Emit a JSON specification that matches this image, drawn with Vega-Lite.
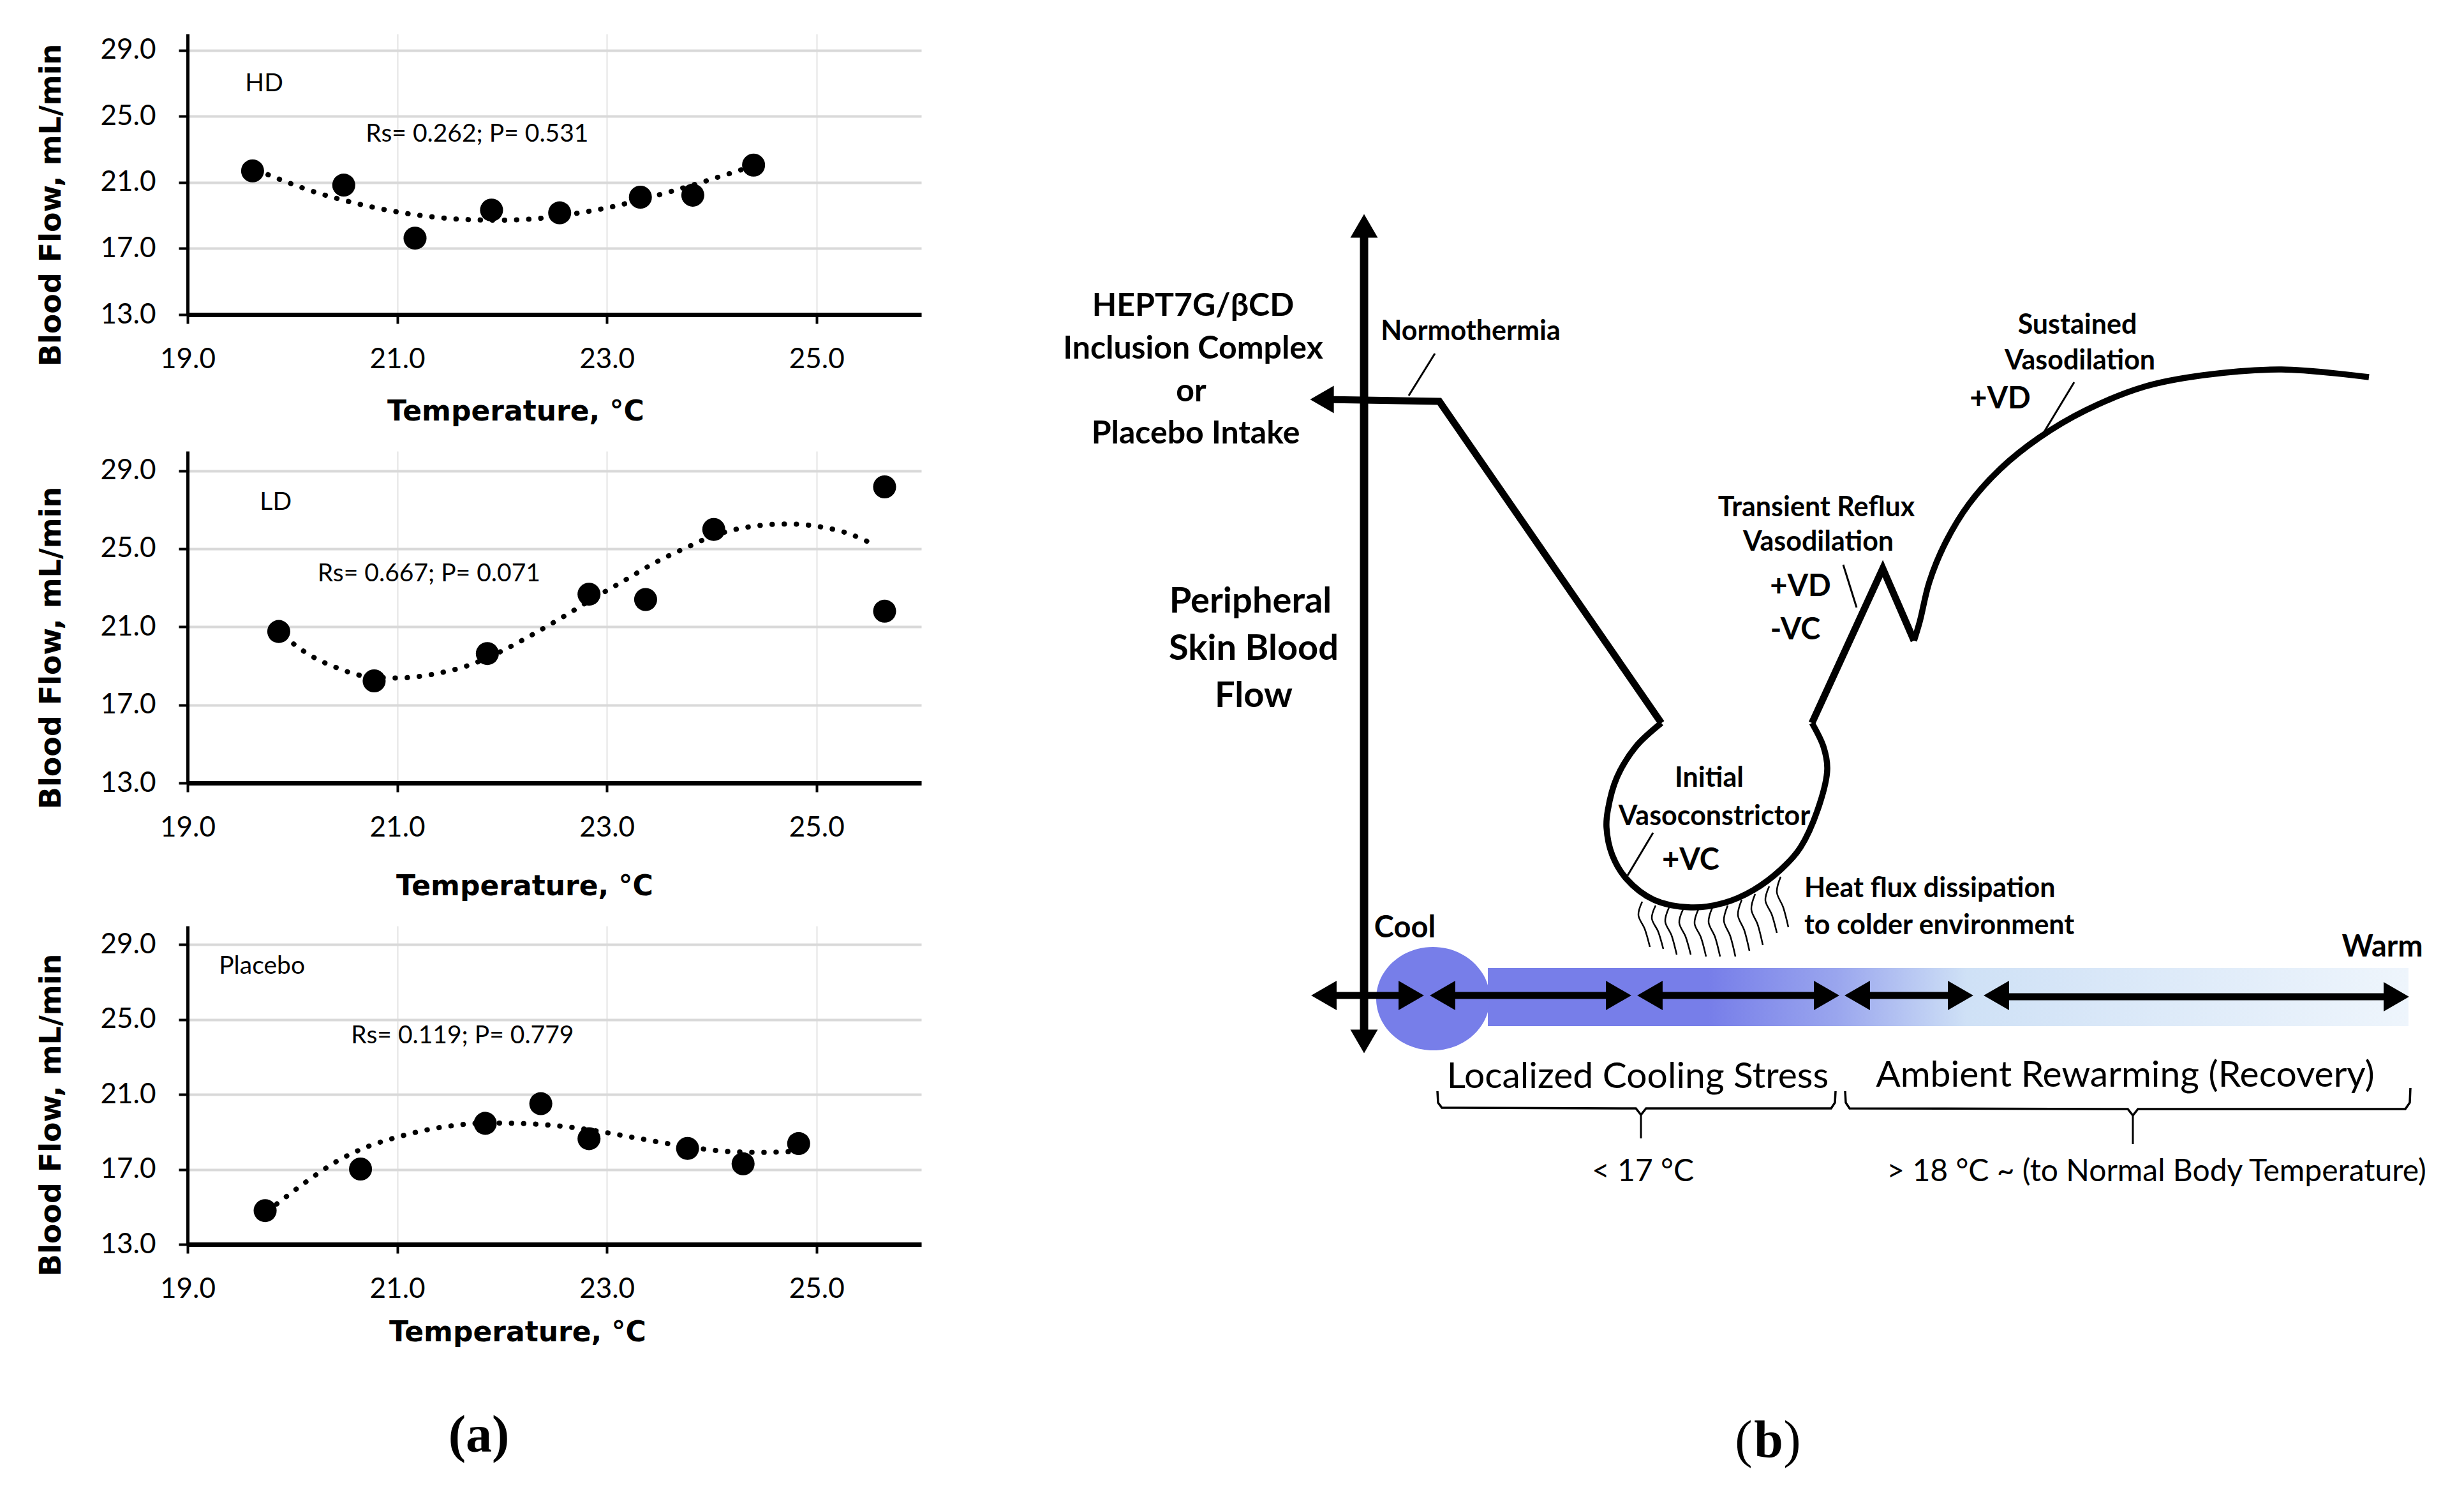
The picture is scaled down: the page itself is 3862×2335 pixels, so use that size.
{
  "$schema": "https://vega.github.io/schema/vega-lite/v6.json",
  "background": "white",
  "padding": {"left": 57, "top": 53, "right": 0, "bottom": 0},
  "config": {
    "view": {"stroke": null},
    "axis": {"labelFont": "Lato", "titleFont": "DejaVu Sans", "labelColor": "#000", "titleColor": "#000", "domainColor": "#000", "tickColor": "#000", "labelOverlap": false, "labelFlush": false},
    "text": {"color": "#000"}
  },
  "datasets": {
    "pts": [
      {"g": "HD", "temp": 19.62, "flow": 21.70}, {"g": "HD", "temp": 20.49, "flow": 20.84}, {"g": "HD", "temp": 21.17, "flow": 17.63}, {"g": "HD", "temp": 21.90, "flow": 19.33},
      {"g": "HD", "temp": 22.55, "flow": 19.16}, {"g": "HD", "temp": 23.32, "flow": 20.11}, {"g": "HD", "temp": 23.82, "flow": 20.23}, {"g": "HD", "temp": 24.40, "flow": 22.05},
      {"g": "LD", "temp": 19.87, "flow": 20.76}, {"g": "LD", "temp": 20.78, "flow": 18.23}, {"g": "LD", "temp": 21.86, "flow": 19.63}, {"g": "LD", "temp": 22.83, "flow": 22.67},
      {"g": "LD", "temp": 23.37, "flow": 22.40}, {"g": "LD", "temp": 24.02, "flow": 25.99}, {"g": "LD", "temp": 25.65, "flow": 28.17}, {"g": "LD", "temp": 25.65, "flow": 21.80},
      {"g": "PL", "temp": 19.74, "flow": 14.80}, {"g": "PL", "temp": 20.65, "flow": 17.02}, {"g": "PL", "temp": 21.84, "flow": 19.46}, {"g": "PL", "temp": 22.37, "flow": 20.51},
      {"g": "PL", "temp": 22.83, "flow": 18.64}, {"g": "PL", "temp": 23.77, "flow": 18.12}, {"g": "PL", "temp": 24.30, "flow": 17.30}, {"g": "PL", "temp": 24.83, "flow": 18.38}
    ],
    "fits": [
      {"g": "HD", "temp": 19.66, "flow": 21.75}, {"g": "HD", "temp": 20.25, "flow": 20.35}, {"g": "HD", "temp": 20.48, "flow": 19.94}, {"g": "HD", "temp": 20.83, "flow": 19.42},
      {"g": "HD", "temp": 21.29, "flow": 18.95}, {"g": "HD", "temp": 21.64, "flow": 18.76}, {"g": "HD", "temp": 21.99, "flow": 18.72}, {"g": "HD", "temp": 22.33, "flow": 18.81},
      {"g": "HD", "temp": 22.68, "flow": 19.10}, {"g": "HD", "temp": 23.03, "flow": 19.50}, {"g": "HD", "temp": 23.32, "flow": 19.95}, {"g": "HD", "temp": 23.61, "flow": 20.45},
      {"g": "HD", "temp": 23.90, "flow": 21.00}, {"g": "HD", "temp": 24.19, "flow": 21.58}, {"g": "HD", "temp": 24.36, "flow": 21.93},
      {"g": "LD", "temp": 19.92, "flow": 20.50}, {"g": "LD", "temp": 20.18, "flow": 19.51}, {"g": "LD", "temp": 20.42, "flow": 18.91}, {"g": "LD", "temp": 20.71, "flow": 18.46},
      {"g": "LD", "temp": 21.00, "flow": 18.38}, {"g": "LD", "temp": 21.35, "flow": 18.58}, {"g": "LD", "temp": 21.70, "flow": 19.06}, {"g": "LD", "temp": 21.99, "flow": 19.74},
      {"g": "LD", "temp": 22.28, "flow": 20.57}, {"g": "LD", "temp": 22.57, "flow": 21.47}, {"g": "LD", "temp": 22.87, "flow": 22.45}, {"g": "LD", "temp": 23.16, "flow": 23.35},
      {"g": "LD", "temp": 23.45, "flow": 24.26}, {"g": "LD", "temp": 23.74, "flow": 25.01}, {"g": "LD", "temp": 24.03, "flow": 25.69}, {"g": "LD", "temp": 24.38, "flow": 26.14},
      {"g": "LD", "temp": 24.73, "flow": 26.27}, {"g": "LD", "temp": 25.02, "flow": 26.14}, {"g": "LD", "temp": 25.31, "flow": 25.77}, {"g": "LD", "temp": 25.55, "flow": 25.21},
      {"g": "PL", "temp": 19.85, "flow": 15.15}, {"g": "PL", "temp": 20.14, "flow": 16.37}, {"g": "PL", "temp": 20.42, "flow": 17.42}, {"g": "PL", "temp": 20.71, "flow": 18.20},
      {"g": "PL", "temp": 21.00, "flow": 18.72}, {"g": "PL", "temp": 21.29, "flow": 19.12}, {"g": "PL", "temp": 21.58, "flow": 19.37}, {"g": "PL", "temp": 21.86, "flow": 19.48},
      {"g": "PL", "temp": 22.15, "flow": 19.46}, {"g": "PL", "temp": 22.44, "flow": 19.37}, {"g": "PL", "temp": 22.73, "flow": 19.20}, {"g": "PL", "temp": 23.02, "flow": 18.94},
      {"g": "PL", "temp": 23.31, "flow": 18.65}, {"g": "PL", "temp": 23.59, "flow": 18.37}, {"g": "PL", "temp": 23.88, "flow": 18.12}, {"g": "PL", "temp": 24.17, "flow": 17.95},
      {"g": "PL", "temp": 24.46, "flow": 17.91}, {"g": "PL", "temp": 24.75, "flow": 17.95}
    ],
    "notes": [
      {"g": "HD", "temp": 19.55, "flow": 27.0, "label": "HD"},
      {"g": "HD", "temp": 20.70, "flow": 23.94, "label": "Rs= 0.262; P= 0.531"},
      {"g": "LD", "temp": 19.69, "flow": 27.4, "label": "LD"},
      {"g": "LD", "temp": 20.24, "flow": 23.73, "label": "Rs= 0.667; P= 0.071"},
      {"g": "PL", "temp": 19.30, "flow": 27.86, "label": "Placebo"},
      {"g": "PL", "temp": 20.56, "flow": 24.15, "label": "Rs= 0.119; P= 0.779"}
    ],
    "band": [{"x": 730, "x2": 2173, "y": 727, "y2": 818}],
    "blob": [{"x": 644, "y": 770}],
    "braces": [
      {"id": "cool", "ord": 1, "x": 651, "y": 625}, {"id": "cool", "ord": 2, "x": 652, "y": 607}, {"id": "cool", "ord": 3, "x": 658, "y": 599},
      {"id": "cool", "ord": 4, "x": 962, "y": 598}, {"id": "cool", "ord": 5, "x": 970, "y": 588}, {"id": "cool", "ord": 6, "x": 978, "y": 598},
      {"id": "cool", "ord": 7, "x": 1268, "y": 598}, {"id": "cool", "ord": 8, "x": 1274, "y": 607}, {"id": "cool", "ord": 9, "x": 1275, "y": 625},
      {"id": "warm", "ord": 1, "x": 1290, "y": 625}, {"id": "warm", "ord": 2, "x": 1291, "y": 607}, {"id": "warm", "ord": 3, "x": 1297, "y": 598},
      {"id": "warm", "ord": 4, "x": 1733, "y": 597}, {"id": "warm", "ord": 5, "x": 1741, "y": 587}, {"id": "warm", "ord": 6, "x": 1749, "y": 597},
      {"id": "warm", "ord": 7, "x": 2168, "y": 597}, {"id": "warm", "ord": 8, "x": 2175, "y": 607}, {"id": "warm", "ord": 9, "x": 2176, "y": 630}
    ],
    "leaders": [
      {"x": 647, "y": 1781, "x2": 606, "y2": 1715},
      {"x": 1287, "y": 1450, "x2": 1308, "y2": 1383},
      {"x": 1649, "y": 1736, "x2": 1600, "y2": 1655},
      {"x": 989, "y": 1030, "x2": 949, "y2": 963},
      {"x": 970, "y": 588, "x2": 970, "y2": 551},
      {"x": 1741, "y": 587, "x2": 1741, "y2": 542}
    ],
    "squig": [
      {"id": "s1", "ord": 1, "x": 972, "y": 922}, {"id": "s1", "ord": 2, "x": 966, "y": 901}, {"id": "s1", "ord": 3, "x": 976, "y": 879}, {"id": "s1", "ord": 4, "x": 984, "y": 851},
      {"id": "s2", "ord": 1, "x": 993, "y": 916}, {"id": "s2", "ord": 2, "x": 987, "y": 896}, {"id": "s2", "ord": 3, "x": 997, "y": 875}, {"id": "s2", "ord": 4, "x": 1005, "y": 848},
      {"id": "s3", "ord": 1, "x": 1014, "y": 913}, {"id": "s3", "ord": 2, "x": 1008, "y": 891}, {"id": "s3", "ord": 3, "x": 1018, "y": 869}, {"id": "s3", "ord": 4, "x": 1026, "y": 839},
      {"id": "s4", "ord": 1, "x": 1036, "y": 910}, {"id": "s4", "ord": 2, "x": 1030, "y": 889}, {"id": "s4", "ord": 3, "x": 1040, "y": 867}, {"id": "s4", "ord": 4, "x": 1048, "y": 839},
      {"id": "s5", "ord": 1, "x": 1060, "y": 910}, {"id": "s5", "ord": 2, "x": 1054, "y": 888}, {"id": "s5", "ord": 3, "x": 1064, "y": 866}, {"id": "s5", "ord": 4, "x": 1072, "y": 836},
      {"id": "s6", "ord": 1, "x": 1082, "y": 913}, {"id": "s6", "ord": 2, "x": 1076, "y": 890}, {"id": "s6", "ord": 3, "x": 1086, "y": 867}, {"id": "s6", "ord": 4, "x": 1094, "y": 836},
      {"id": "s7", "ord": 1, "x": 1106, "y": 916}, {"id": "s7", "ord": 2, "x": 1100, "y": 892}, {"id": "s7", "ord": 3, "x": 1110, "y": 868}, {"id": "s7", "ord": 4, "x": 1118, "y": 836},
      {"id": "s8", "ord": 1, "x": 1128, "y": 925}, {"id": "s8", "ord": 2, "x": 1122, "y": 901}, {"id": "s8", "ord": 3, "x": 1132, "y": 877}, {"id": "s8", "ord": 4, "x": 1140, "y": 845},
      {"id": "s9", "ord": 1, "x": 1149, "y": 934}, {"id": "s9", "ord": 2, "x": 1143, "y": 910}, {"id": "s9", "ord": 3, "x": 1153, "y": 886}, {"id": "s9", "ord": 4, "x": 1161, "y": 854},
      {"id": "s10", "ord": 1, "x": 1171, "y": 946}, {"id": "s10", "ord": 2, "x": 1165, "y": 924}, {"id": "s10", "ord": 3, "x": 1175, "y": 902}, {"id": "s10", "ord": 4, "x": 1183, "y": 873},
      {"id": "s11", "ord": 1, "x": 1189, "y": 961}, {"id": "s11", "ord": 2, "x": 1183, "y": 937}, {"id": "s11", "ord": 3, "x": 1193, "y": 913}, {"id": "s11", "ord": 4, "x": 1201, "y": 882}
    ],
    "path": [
      {"seg": "a", "ord": 1, "x": 475, "y": 1709}, {"seg": "a", "ord": 2, "x": 654, "y": 1706}, {"seg": "a", "ord": 3, "x": 1002, "y": 1202},
      {"seg": "b", "ord": 1, "x": 1002, "y": 1202}, {"seg": "b", "ord": 2, "x": 962, "y": 1165}, {"seg": "b", "ord": 3, "x": 932, "y": 1116},
      {"seg": "b", "ord": 4, "x": 918, "y": 1065}, {"seg": "b", "ord": 5, "x": 916, "y": 1038}, {"seg": "b", "ord": 6, "x": 925, "y": 995},
      {"seg": "b", "ord": 7, "x": 947, "y": 958}, {"seg": "b", "ord": 8, "x": 990, "y": 925}, {"seg": "b", "ord": 9, "x": 1048, "y": 913},
      {"seg": "b", "ord": 10, "x": 1100, "y": 920}, {"seg": "b", "ord": 11, "x": 1146, "y": 940}, {"seg": "b", "ord": 12, "x": 1190, "y": 973},
      {"seg": "b", "ord": 13, "x": 1220, "y": 1007}, {"seg": "b", "ord": 14, "x": 1250, "y": 1075}, {"seg": "b", "ord": 15, "x": 1262, "y": 1130},
      {"seg": "b", "ord": 16, "x": 1256, "y": 1165}, {"seg": "b", "ord": 17, "x": 1238, "y": 1202},
      {"seg": "c", "ord": 1, "x": 1238, "y": 1202}, {"seg": "c", "ord": 2, "x": 1349, "y": 1444}, {"seg": "c", "ord": 3, "x": 1398, "y": 1331},
      {"seg": "d", "ord": 1, "x": 1398, "y": 1331}, {"seg": "d", "ord": 2, "x": 1407, "y": 1361}, {"seg": "d", "ord": 3, "x": 1422, "y": 1423},
      {"seg": "d", "ord": 4, "x": 1447, "y": 1484}, {"seg": "d", "ord": 5, "x": 1484, "y": 1545}, {"seg": "d", "ord": 6, "x": 1533, "y": 1600},
      {"seg": "d", "ord": 7, "x": 1594, "y": 1649}, {"seg": "d", "ord": 8, "x": 1667, "y": 1692}, {"seg": "d", "ord": 9, "x": 1759, "y": 1729},
      {"seg": "d", "ord": 10, "x": 1851, "y": 1747}, {"seg": "d", "ord": 11, "x": 1974, "y": 1756}, {"seg": "d", "ord": 12, "x": 2111, "y": 1744}
    ],
    "vaxis": [{"x": 536, "y": 703, "y2": 1981}],
    "shafts": [
      {"x": 473, "x2": 610, "y": 775}, {"x": 659, "x2": 935, "y": 775}, {"x": 984, "x2": 1261, "y": 775},
      {"x": 1309, "x2": 1471, "y": 775}, {"x": 1527, "x2": 2154, "y": 773}
    ],
    "heads": [
      {"dir": "left", "x": 473, "y": 775}, {"dir": "right", "x": 610, "y": 775},
      {"dir": "left", "x": 659, "y": 775}, {"dir": "right", "x": 935, "y": 775},
      {"dir": "left", "x": 984, "y": 775}, {"dir": "right", "x": 1261, "y": 775},
      {"dir": "left", "x": 1309, "y": 775}, {"dir": "right", "x": 1471, "y": 775},
      {"dir": "left", "x": 1527, "y": 775}, {"dir": "right", "x": 2154, "y": 773}
    ],
    "axisHeads": [
      {"dir": "up", "x": 536, "y": 1981}, {"dir": "down", "x": 536, "y": 703}, {"dir": "left", "x": 470, "y": 1709}
    ],
    "t43": [
      {"x": 703, "y": 1815, "t": "Normothermia"},
      {"x": 1654, "y": 1825, "t": "Sustained"},
      {"x": 1658, "y": 1769, "t": "Vasodilation"},
      {"x": 1245, "y": 1539, "t": "Transient Reflux"},
      {"x": 1248, "y": 1485, "t": "Vasodilation"},
      {"x": 1077, "y": 1115, "t": "Initial"},
      {"x": 1085, "y": 1055, "t": "Vasoconstrictor"}
    ],
    "t47": [
      {"x": 1533, "y": 1709, "t": "+VD"},
      {"x": 1220, "y": 1415, "t": "+VD"},
      {"x": 1212, "y": 1347, "t": "-VC"},
      {"x": 1048, "y": 986, "t": "+VC"},
      {"x": 600, "y": 880, "t": "Cool"},
      {"x": 2132, "y": 850, "t": "Warm"}
    ],
    "tLeft": [
      {"x": 1226, "y": 942, "t": "Heat flux dissipation"},
      {"x": 1226, "y": 884, "t": "to colder environment"}
    ],
    "t50": [
      {"x": 268, "y": 1855, "t": "HEPT7G/βCD"},
      {"x": 268, "y": 1788, "t": "Inclusion Complex"},
      {"x": 265, "y": 1721, "t": "or"},
      {"x": 272, "y": 1655, "t": "Placebo Intake"}
    ],
    "t56": [
      {"x": 358, "y": 1392, "t": "Peripheral"},
      {"x": 363, "y": 1318, "t": "Skin Blood"},
      {"x": 363, "y": 1244, "t": "Flow"}
    ],
    "phase": [
      {"x": 965, "y": 647, "t": "Localized Cooling Stress"},
      {"x": 1729, "y": 649, "t": "Ambient Rewarming (Recovery)"}
    ],
    "temps": [
      {"x": 973, "y": 498, "t": "< 17 °C"},
      {"x": 1778, "y": 498, "t": "> 18 °C ~ (to Normal Body Temperature)"}
    ],
    "parens": [{"x": 1131, "y": 77, "t": "("}, {"x": 1207, "y": 77, "t": ")"}],
    "tagb": [{"x": 1170, "y": 77, "t": "b"}]
  },
  "spacing": 158,
  "hconcat": [
    {
      "spacing": 40,
      "title": {"text": "(a)", "orient": "bottom", "anchor": "middle", "font": "Liberation Serif", "fontSize": 82, "fontWeight": "bold", "color": "#000", "offset": 100},
      "vconcat": [
        {
          "width": 1150, "height": 440,
          "encoding": {
            "x": {"field": "temp", "type": "quantitative", "scale": {"domain": [19, 26], "nice": false, "zero": false},
              "axis": {"values": [19, 21, 23, 25], "format": ".1f", "title": "Temperature, °C", "titleFontSize": 44, "titleFontWeight": "bold", "titleX": 514, "titleAlign": "center", "titlePadding": 38, "labelFontSize": 44, "labelPadding": 34, "tickSize": 14, "tickWidth": 4, "domainWidth": 7, "grid": true, "gridColor": "#e4e4e4", "gridWidth": 2}},
            "y": {"field": "flow", "type": "quantitative", "scale": {"domain": [13, 30], "nice": false, "zero": false},
              "axis": {"values": [13, 17, 21, 25, 29], "format": ".1f", "title": "Blood Flow, mL/min", "titleFontSize": 46, "titleFontWeight": "bold", "titleAngle": 270, "titleAlign": "center", "titleBaseline": "middle", "titleX": -214, "titleY": 268, "labelFontSize": 44, "labelPadding": 36, "tickSize": 14, "tickWidth": 4, "domainWidth": 5, "grid": true, "gridColor": "#d9d9d9", "gridWidth": 4}}
          },
          "layer": [
            {"data": {"name": "fits"}, "transform": [{"filter": "datum.g == 'HD'"}], "mark": {"type": "line", "color": "#000", "strokeWidth": 8, "strokeCap": "round", "strokeDash": [0.5, 18.5], "interpolate": "monotone"}},
            {"data": {"name": "pts"}, "transform": [{"filter": "datum.g == 'HD'"}], "mark": {"type": "circle", "color": "#000", "opacity": 1, "size": 1300}},
            {"data": {"name": "notes"}, "transform": [{"filter": "datum.g == 'HD'"}], "mark": {"type": "text", "font": "Lato", "fontSize": 39, "align": "left", "baseline": "middle", "color": "#000"}, "encoding": {"text": {"field": "label"}}}
          ]
        },
        {
          "width": 1150, "height": 520,
          "encoding": {
            "x": {"field": "temp", "type": "quantitative", "scale": {"domain": [19, 26], "nice": false, "zero": false},
              "axis": {"values": [19, 21, 23, 25], "format": ".1f", "title": "Temperature, °C", "titleFontSize": 44, "titleFontWeight": "bold", "titleX": 528, "titleAlign": "center", "titlePadding": 48, "labelFontSize": 44, "labelPadding": 34, "tickSize": 14, "tickWidth": 4, "domainWidth": 7, "grid": true, "gridColor": "#e4e4e4", "gridWidth": 2}},
            "y": {"field": "flow", "type": "quantitative", "scale": {"domain": [13, 30], "nice": false, "zero": false},
              "axis": {"values": [13, 17, 21, 25, 29], "format": ".1f", "title": "Blood Flow, mL/min", "titleFontSize": 46, "titleFontWeight": "bold", "titleAngle": 270, "titleAlign": "center", "titleBaseline": "middle", "titleX": -214, "titleY": 308, "labelFontSize": 44, "labelPadding": 36, "tickSize": 14, "tickWidth": 4, "domainWidth": 5, "grid": true, "gridColor": "#d9d9d9", "gridWidth": 4}}
          },
          "layer": [
            {"data": {"name": "fits"}, "transform": [{"filter": "datum.g == 'LD'"}], "mark": {"type": "line", "color": "#000", "strokeWidth": 8, "strokeCap": "round", "strokeDash": [0.5, 18.5], "interpolate": "monotone"}},
            {"data": {"name": "pts"}, "transform": [{"filter": "datum.g == 'LD'"}], "mark": {"type": "circle", "color": "#000", "opacity": 1, "size": 1300}},
            {"data": {"name": "notes"}, "transform": [{"filter": "datum.g == 'LD'"}], "mark": {"type": "text", "font": "Lato", "fontSize": 39, "align": "left", "baseline": "middle", "color": "#000"}, "encoding": {"text": {"field": "label"}}}
          ]
        },
        {
          "width": 1150, "height": 499,
          "encoding": {
            "x": {"field": "temp", "type": "quantitative", "scale": {"domain": [19, 26], "nice": false, "zero": false},
              "axis": {"values": [19, 21, 23, 25], "format": ".1f", "title": "Temperature, °C", "titleFontSize": 44, "titleFontWeight": "bold", "titleX": 517, "titleAlign": "center", "titlePadding": 24, "labelFontSize": 44, "labelPadding": 34, "tickSize": 14, "tickWidth": 4, "domainWidth": 7, "grid": true, "gridColor": "#e4e4e4", "gridWidth": 2}},
            "y": {"field": "flow", "type": "quantitative", "scale": {"domain": [13, 30], "nice": false, "zero": false},
              "axis": {"values": [13, 17, 21, 25, 29], "format": ".1f", "title": "Blood Flow, mL/min", "titleFontSize": 46, "titleFontWeight": "bold", "titleAngle": 270, "titleAlign": "center", "titleBaseline": "middle", "titleX": -214, "titleY": 296, "labelFontSize": 44, "labelPadding": 36, "tickSize": 14, "tickWidth": 4, "domainWidth": 5, "grid": true, "gridColor": "#d9d9d9", "gridWidth": 4}}
          },
          "layer": [
            {"data": {"name": "fits"}, "transform": [{"filter": "datum.g == 'PL'"}], "mark": {"type": "line", "color": "#000", "strokeWidth": 8, "strokeCap": "round", "strokeDash": [0.5, 18.5], "interpolate": "monotone"}},
            {"data": {"name": "pts"}, "transform": [{"filter": "datum.g == 'PL'"}], "mark": {"type": "circle", "color": "#000", "opacity": 1, "size": 1300}},
            {"data": {"name": "notes"}, "transform": [{"filter": "datum.g == 'PL'"}], "mark": {"type": "text", "font": "Lato", "fontSize": 39, "align": "left", "baseline": "middle", "color": "#000"}, "encoding": {"text": {"field": "label"}}}
          ]
        }
      ]
    },
    {
      "width": 2262, "height": 2282,
      "encoding": {
        "x": {"field": "x", "type": "quantitative", "scale": {"domain": [0, 2262], "nice": false, "zero": false}, "axis": null},
        "y": {"field": "y", "type": "quantitative", "scale": {"domain": [0, 2282], "nice": false, "zero": false}, "axis": null}
      },
      "layer": [
        {"data": {"name": "band"}, "mark": {"type": "rect", "color": {"gradient": "linear", "x1": 0, "y1": 0, "x2": 1, "y2": 0, "stops": [{"offset": 0, "color": "#777ee9"}, {"offset": 0.24, "color": "#777ee9"}, {"offset": 0.38, "color": "#9aa6ee"}, {"offset": 0.52, "color": "#cfe1f6"}, {"offset": 1, "color": "#eef5fc"}]}}, "encoding": {"x2": {"field": "x2"}, "y2": {"field": "y2"}}},
        {"data": {"name": "blob"}, "mark": {"type": "point", "shape": "M-1,0A1,0.91,0,1,0,1,0A1,0.91,0,1,0,-1,0Z", "filled": true, "color": "#777ee9", "opacity": 1, "size": 31684, "strokeWidth": 0}},
        {"data": {"name": "braces"}, "mark": {"type": "line", "color": "#000", "strokeWidth": 3.5}, "encoding": {"detail": {"field": "id", "type": "nominal"}, "order": {"field": "ord", "type": "quantitative"}}},
        {"data": {"name": "leaders"}, "mark": {"type": "rule", "color": "#000", "strokeWidth": 3}, "encoding": {"x2": {"field": "x2"}, "y2": {"field": "y2"}}},
        {"data": {"name": "squig"}, "mark": {"type": "line", "color": "#000", "strokeWidth": 2.5, "interpolate": "catmull-rom"}, "encoding": {"detail": {"field": "id", "type": "nominal"}, "order": {"field": "ord", "type": "quantitative"}}},
        {"data": {"name": "path"}, "transform": [{"filter": "datum.seg == 'a' || datum.seg == 'c'"}], "mark": {"type": "line", "color": "#000", "strokeWidth": 11, "strokeJoin": "miter"}, "encoding": {"detail": {"field": "seg", "type": "nominal"}, "order": {"field": "ord", "type": "quantitative"}}},
        {"data": {"name": "path"}, "transform": [{"filter": "datum.seg == 'b' || datum.seg == 'd'"}], "mark": {"type": "line", "color": "#000", "strokeWidth": 9.5, "interpolate": "catmull-rom"}, "encoding": {"detail": {"field": "seg", "type": "nominal"}, "order": {"field": "ord", "type": "quantitative"}}},
        {"data": {"name": "vaxis"}, "mark": {"type": "rule", "color": "#000", "strokeWidth": 13}, "encoding": {"y2": {"field": "y2"}}},
        {"data": {"name": "shafts"}, "mark": {"type": "rule", "color": "#000", "strokeWidth": 11}, "encoding": {"x2": {"field": "x2"}}},
        {"data": {"name": "heads"}, "mark": {"type": "point", "filled": true, "color": "#000", "opacity": 1, "size": 2116, "strokeWidth": 0}, "encoding": {"shape": {"field": "dir", "type": "nominal", "scale": {"domain": ["left", "right", "up", "down"], "range": ["triangle-left", "triangle-right", "triangle-up", "triangle-down"]}, "legend": null}}},
        {"data": {"name": "axisHeads"}, "mark": {"type": "point", "filled": true, "color": "#000", "opacity": 1, "size": 1849, "strokeWidth": 0}, "encoding": {"shape": {"field": "dir", "type": "nominal", "scale": {"domain": ["left", "right", "up", "down"], "range": ["triangle-left", "triangle-right", "triangle-up", "triangle-down"]}, "legend": null}}},
        {"data": {"name": "t43"}, "mark": {"type": "text", "font": "Lato", "fontWeight": "bold", "fontSize": 43, "align": "center", "baseline": "middle", "color": "#000"}, "encoding": {"text": {"field": "t"}}},
        {"data": {"name": "t47"}, "mark": {"type": "text", "font": "Lato", "fontWeight": "bold", "fontSize": 47, "align": "center", "baseline": "middle", "color": "#000"}, "encoding": {"text": {"field": "t"}}},
        {"data": {"name": "tLeft"}, "mark": {"type": "text", "font": "Lato", "fontWeight": "bold", "fontSize": 43, "align": "left", "baseline": "middle", "color": "#000"}, "encoding": {"text": {"field": "t"}}},
        {"data": {"name": "t50"}, "mark": {"type": "text", "font": "Lato", "fontWeight": "bold", "fontSize": 50, "align": "center", "baseline": "middle", "color": "#000"}, "encoding": {"text": {"field": "t"}}},
        {"data": {"name": "t56"}, "mark": {"type": "text", "font": "Lato", "fontWeight": "bold", "fontSize": 56, "align": "center", "baseline": "middle", "color": "#000"}, "encoding": {"text": {"field": "t"}}},
        {"data": {"name": "phase"}, "mark": {"type": "text", "font": "Lato", "fontSize": 57, "align": "center", "baseline": "middle", "color": "#000"}, "encoding": {"text": {"field": "t"}}},
        {"data": {"name": "temps"}, "mark": {"type": "text", "font": "Lato", "fontSize": 48, "align": "center", "baseline": "middle", "color": "#000"}, "encoding": {"text": {"field": "t"}}},
        {"data": {"name": "parens"}, "mark": {"type": "text", "font": "Liberation Serif", "fontSize": 82, "align": "center", "baseline": "middle", "color": "#000"}, "encoding": {"text": {"field": "t"}}},
        {"data": {"name": "tagb"}, "mark": {"type": "text", "font": "Liberation Serif", "fontWeight": "bold", "fontSize": 82, "align": "center", "baseline": "middle", "color": "#000"}, "encoding": {"text": {"field": "t"}}}
      ]
    }
  ]
}
